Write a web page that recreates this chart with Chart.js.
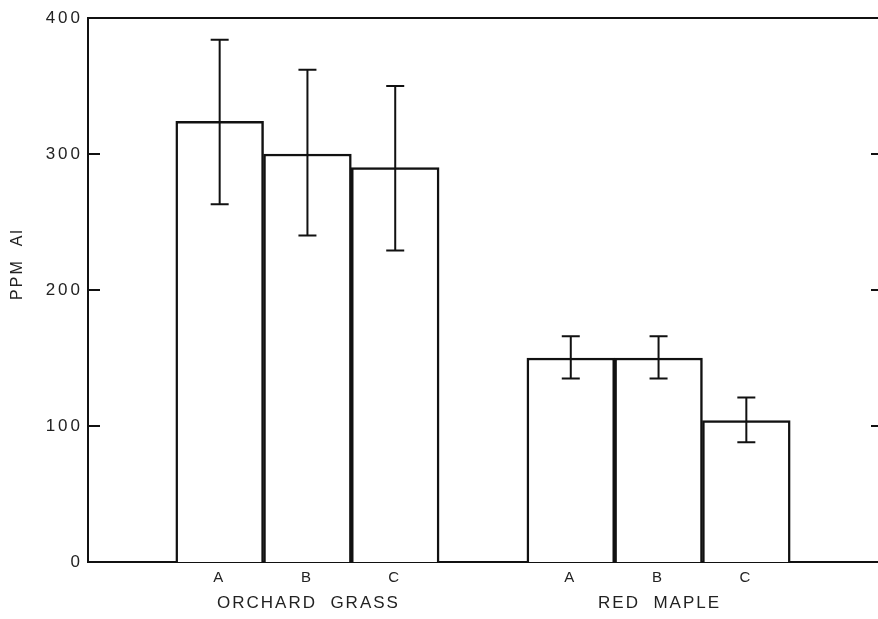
<!DOCTYPE html>
<html>
<head>
<meta charset="utf-8">
<style>
  html, body { margin: 0; padding: 0; background: #fff; }
  #wrap { width: 878px; height: 619px; }
</style>
<script src="https://cdn.jsdelivr.net/npm/chart.js@4/dist/chart.umd.min.js"></script>
</head>
<body>
<div id="wrap"><canvas id="chart"></canvas></div>
<script>
// Data (empty slots are spacers between groups)
const categories = ["", "A", "B", "C", "", "A", "B", "C", ""];
const ppmValues = [null, 324, 300, 290, null, 150, 150, 104, null];
const errLow = [null, 263, 240, 229, null, 135, 135, 88, null];
const errHigh = [null, 384, 362, 350, null, 166, 166, 121, null];
const groupNames = ["ORCHARD  GRASS", "RED  MAPLE"];
const groupCenters = [2, 6];
const yTicks = [0, 100, 200, 300, 400];
const yTitle = "PPM  Al";

const FONT = "'Liberation Sans', 'DejaVu Sans', sans-serif";

// wide letter spacing like the original typesetting
const spacing = {
    id: "spacing",
    beforeDraw(chart) {
        if ("letterSpacing" in chart.ctx) chart.ctx.letterSpacing = "3px";
    }
};

// frame lines, inward ticks, error bars, axis title and group labels
const extras = {
    id: "extras",
    afterDatasetsDraw(chart) {
        const ctx = chart.ctx;
        const x = chart.scales.x;
        const y = chart.scales.y;
        const area = chart.chartArea;
        ctx.save();
        ctx.strokeStyle = "#111";
        ctx.lineCap = "butt";

        // top line
        ctx.lineWidth = 2;
        ctx.beginPath();
        ctx.moveTo(area.left, y.getPixelForValue(400));
        ctx.lineTo(chart.width, y.getPixelForValue(400));
        ctx.stroke();

        // left ticks (inward) and right stub ticks
        yTicks.slice(1, 4).forEach(v => {
            const py = y.getPixelForValue(v);
            ctx.beginPath();
            ctx.moveTo(area.left, py);
            ctx.lineTo(area.left + 12, py);
            ctx.moveTo(chart.width - 7, py);
            ctx.lineTo(chart.width, py);
            ctx.stroke();
        });

        // error bars
        ctx.lineWidth = 2;
        ppmValues.forEach((v, i) => {
            if (v === null) return;
            const px = x.getPixelForValue(i);
            const top = y.getPixelForValue(errHigh[i]);
            const bot = y.getPixelForValue(errLow[i]);
            ctx.beginPath();
            ctx.moveTo(px, top);
            ctx.lineTo(px, bot);
            ctx.moveTo(px - 9, top);
            ctx.lineTo(px + 9, top);
            ctx.moveTo(px - 9, bot);
            ctx.lineTo(px + 9, bot);
            ctx.stroke();
        });

        // group labels
        ctx.fillStyle = "#222";
        ctx.font = "17px " + FONT;
        ctx.textAlign = "center";
        ctx.textBaseline = "middle";
        if ("letterSpacing" in ctx) ctx.letterSpacing = "2px";
        groupNames.forEach((name, k) => {
            ctx.fillText(name, x.getPixelForValue(groupCenters[k]) + 1, 603);
        });

        // y axis title
        ctx.font = "16px " + FONT;
        if ("letterSpacing" in ctx) ctx.letterSpacing = "2px";
        ctx.translate(18, 264);
        ctx.rotate(-Math.PI / 2);
        ctx.fillText(yTitle, 0, 0);
        ctx.restore();
    }
};

new Chart(document.getElementById("chart"), {
    type: "bar",
    data: {
        labels: categories,
        datasets: [{
            label: "PPM Al",
            data: ppmValues,
            backgroundColor: "#fff",
            borderColor: "#111",
            borderWidth: 2.5,
            borderSkipped: "bottom",
            barPercentage: 1.0,
            categoryPercentage: 1.0
        }]
    },
    options: {
        responsive: true,
        maintainAspectRatio: false,
        animation: false,
        layout: { padding: { top: 18, right: 0, bottom: 0, left: 0 } },
        plugins: {
            legend: { display: false },
            tooltip: { enabled: false }
        },
        scales: {
            x: {
                grid: { display: false, drawTicks: false },
                border: { color: "#111", width: 2 },
                ticks: {
                    color: "#222",
                    font: { family: FONT, size: 15 },
                    padding: 7,
                    maxRotation: 0,
                    autoSkip: false
                },
                afterFit(s) { s.height = 57; }
            },
            y: {
                min: 0,
                max: 400,
                grid: { display: false, drawTicks: false },
                border: { color: "#111", width: 2 },
                afterBuildTicks(s) { s.ticks = yTicks.map(v => ({ value: v })); },
                ticks: {
                    color: "#222",
                    font: { family: FONT, size: 17 },
                    padding: 5
                },
                afterFit(s) { s.width = 88; }
            }
        }
    },
    plugins: [spacing, extras]
});
</script>
</body>
</html>
